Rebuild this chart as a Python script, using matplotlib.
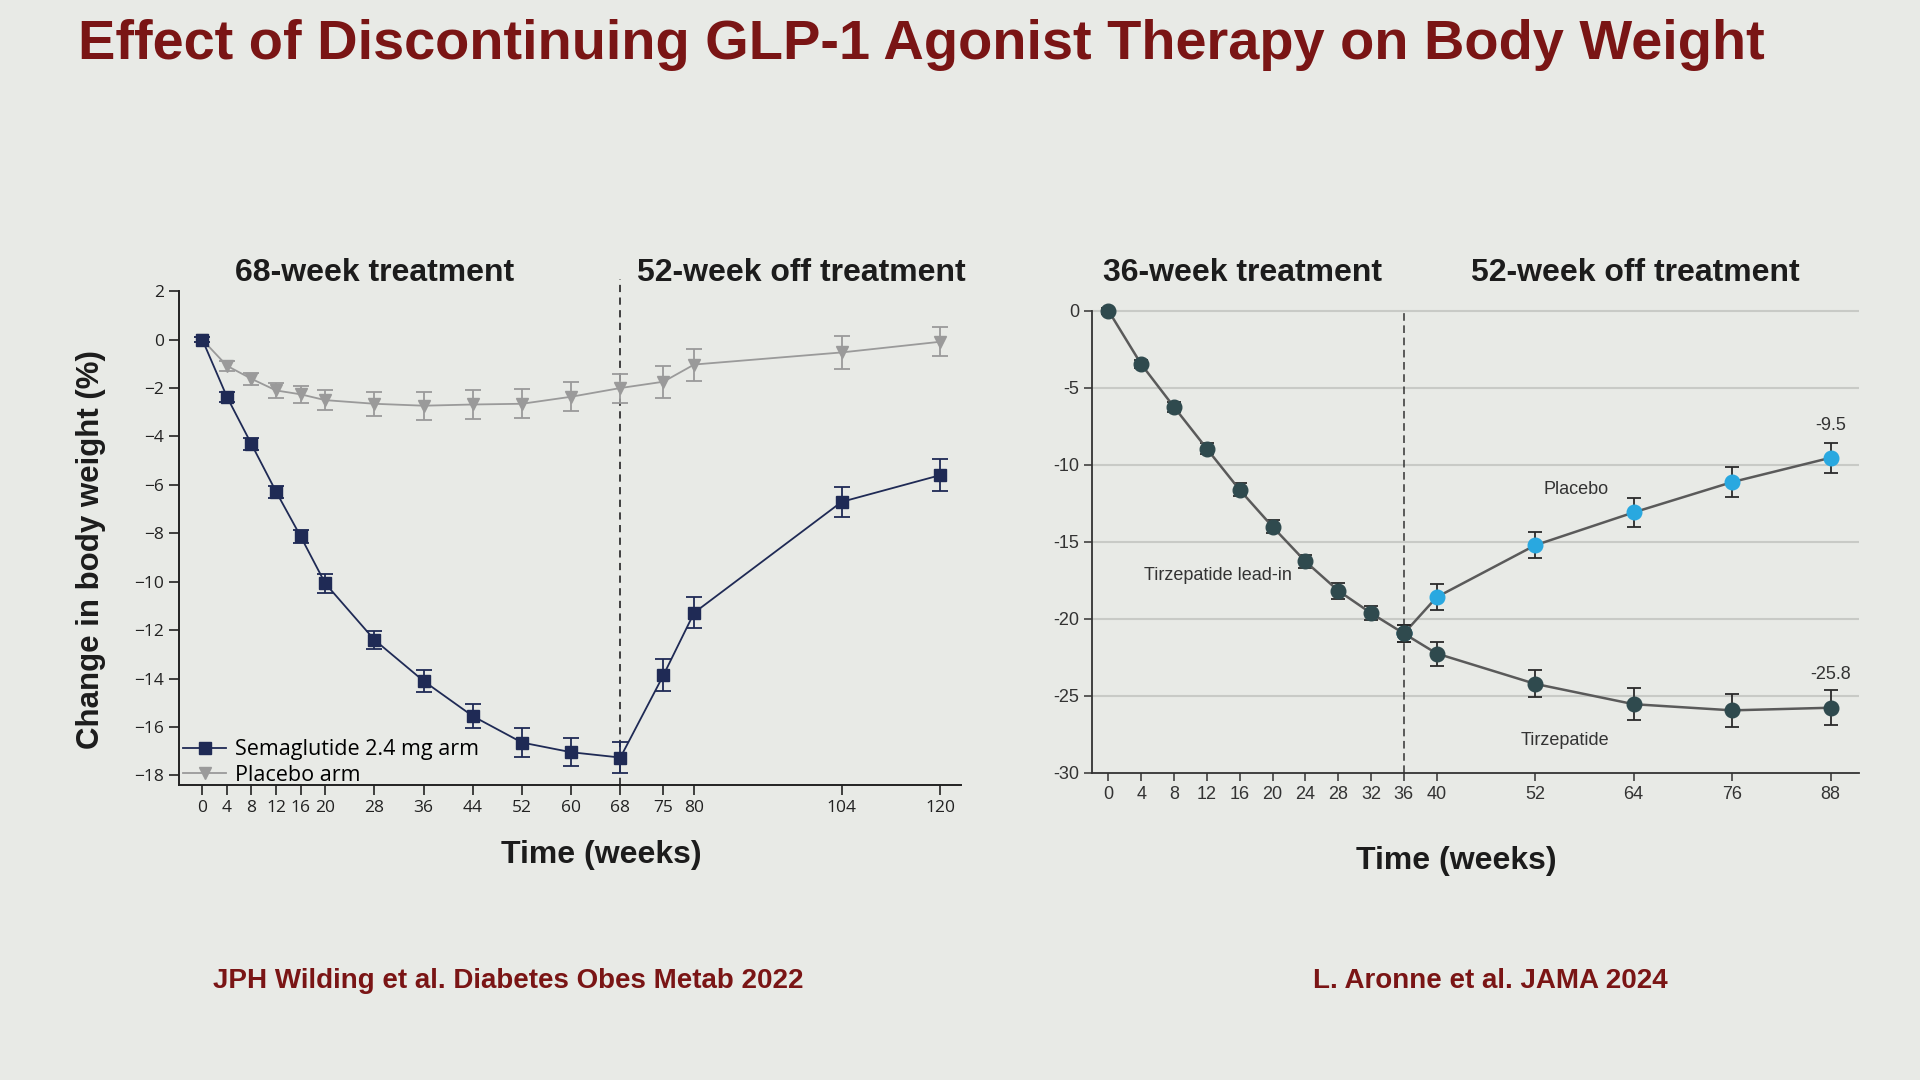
import matplotlib.pyplot as plt

# Wilding 2022 (STEP 1 extension)
sema_weeks = [0, 4, 8, 12, 16, 20, 28, 36, 44, 52, 60, 68, 75, 80, 104, 120]
sema_change = [0, -2.36, -4.32, -6.28, -8.13, -10.07, -12.4, -14.1, -15.55, -16.64, -17.04, -17.26, -13.86, -11.28, -6.7, -5.6]
sema_err = [0.1, 0.2, 0.25, 0.25, 0.25, 0.38, 0.38, 0.45, 0.5, 0.6, 0.58, 0.65, 0.65, 0.65, 0.63, 0.65]
plac_change = [0, -1.08, -1.62, -2.1, -2.26, -2.5, -2.65, -2.73, -2.68, -2.65, -2.36, -2.0, -1.74, -1.03, -0.53, -0.09]
plac_err = [0.1, 0.2, 0.25, 0.3, 0.35, 0.4, 0.5, 0.58, 0.6, 0.6, 0.6, 0.6, 0.66, 0.66, 0.68, 0.6]
left_xticks = [0, 4, 8, 12, 16, 20, 28, 36, 44, 52, 60, 68, 75, 80, 104, 120]

# Aronne 2024 (SURMOUNT-4)
leadin_weeks = [0, 4, 8, 12, 16, 20, 24, 28, 32, 36]
leadin_change = [0, -3.48, -6.26, -8.97, -11.64, -14.03, -16.28, -18.18, -19.64, -20.96]
leadin_err = [0.2, 0.25, 0.3, 0.35, 0.42, 0.43, 0.44, 0.52, 0.46, 0.56]
rand_weeks = [36, 40, 52, 64, 76, 88]
tirz_change = [-20.96, -22.26, -24.23, -25.55, -25.95, -25.78]
tirz_err = [0.56, 0.78, 0.87, 1.02, 1.07, 1.13]
pbo_change = [-20.96, -18.6, -15.23, -13.1, -11.13, -9.55]
pbo_err = [0.56, 0.86, 0.85, 0.93, 0.97, 0.96]
right_xticks = [0, 4, 8, 12, 16, 20, 24, 28, 32, 36, 40, 52, 64, 76, 88]
right_yticks = [0, -5, -10, -15, -20, -25, -30]

bg = '#E8EAE6'
red = '#7A1515'
dark = '#1C1C1C'
navy = '#1F2A55'
gray = '#9A9A9A'
teal = '#2F4A4E'
blue = '#29A8E0'
arial = ['Liberation Sans', 'DejaVu Sans']
narrow = ['Liberation Sans Narrow', 'Liberation Sans', 'DejaVu Sans']
opensans = ['Open Sans', 'DejaVu Sans']

fig = plt.figure(figsize=(19.2, 10.8), dpi=100, facecolor=bg)

fig.text(0.0406, 0.958, 'Effect of Discontinuing GLP-1 Agonist Therapy on Body Weight',
         fontsize=40.3, fontweight='bold', color=red, family=arial, va='center', ha='left')

# ---------- left panel ----------
ax1 = fig.add_axes([0.0932, 0.273, 0.4073, 0.4574])
ax1.set_facecolor(bg)
eb1 = ax1.errorbar(sema_weeks, sema_change, yerr=sema_err, color=navy, marker='s', ms=9,
                   lw=1.3, capsize=6, elinewidth=1.3, capthick=1.3, zorder=3)
eb2 = ax1.errorbar(sema_weeks, plac_change, yerr=plac_err, color=gray, marker='v', ms=9,
                   lw=1.3, capsize=6, elinewidth=1.3, capthick=1.3, zorder=2)
ax1.plot([68, 68], [-18.4, 2.5], color='#333333', lw=1.3, ls=(0, (4, 3)), clip_on=False, zorder=1)
ax1.set_xlim(-3.8, 123.4)
ax1.set_ylim(-18.4, 2)
ax1.set_xticks(left_xticks)
ax1.set_xticklabels([str(t) for t in left_xticks], family=opensans)
ax1.set_yticks(range(2, -19, -2))
ax1.set_yticklabels([str(t).replace('-', '\u2212') for t in range(2, -19, -2)], family=opensans)
ax1.tick_params(labelsize=12.5, colors='#222222', length=7, width=1.2)
for s in ['top', 'right']:
    ax1.spines[s].set_visible(False)
for s in ['left', 'bottom']:
    ax1.spines[s].set_color('#222222')
    ax1.spines[s].set_linewidth(1.4)
ax1.legend([eb1[0], eb2[0]], ['Semaglutide 2.4 mg arm', 'Placebo arm'], loc='lower left',
           frameon=False, handlelength=2.0, borderaxespad=0.0, borderpad=0.2,
           labelspacing=0.2, handletextpad=0.4, bbox_to_anchor=(0.0, -0.01),
           prop={'family': opensans, 'size': 15.5})
ax1.set_ylabel('Change in body weight (%)', fontsize=22.5, fontweight='bold', color=dark,
               family=arial)
ax1.yaxis.set_label_coords(-0.093, 0.476)
ax1.text(28, 2.15, '68-week treatment', fontsize=23, fontweight='bold', color=dark,
         family=arial, ha='center', va='bottom')
ax1.text(97.5, 2.15, '52-week off treatment', fontsize=23, fontweight='bold', color=dark,
         family=arial, ha='center', va='bottom')
fig.text(0.3131, 0.2083, 'Time (weeks)', fontsize=23, fontweight='bold', color=dark,
         family=arial, ha='center', va='center')

# ---------- right panel ----------
ax2 = fig.add_axes([0.569, 0.2845, 0.399, 0.435])
ax2.set_facecolor(bg)
for y in right_yticks[:-1]:
    ax2.axhline(y, color='#C8CAC6', lw=1.5, zorder=0)
ax2.plot([36, 36], [-30, 0], color='#333333', lw=1.1, ls=(0, (5, 3)), zorder=1)
ax2.errorbar(rand_weeks, pbo_change, yerr=pbo_err, color='#5A5A5A', lw=1.8, marker='o',
             mfc=blue, mec=blue, ms=10.5, capsize=5, elinewidth=1.3, capthick=1.3,
             ecolor='#2A2A2A', zorder=2)
ax2.errorbar(rand_weeks, tirz_change, yerr=tirz_err, color='#5A5A5A', lw=1.8, marker='o',
             mfc=teal, mec=teal, ms=10.5, capsize=5, elinewidth=1.3, capthick=1.3,
             ecolor='#2A2A2A', zorder=3)
ax2.errorbar(leadin_weeks, leadin_change, yerr=leadin_err, color='#5A5A5A', lw=1.8, marker='o',
             mfc=teal, mec=teal, ms=10.5, capsize=5, elinewidth=1.3, capthick=1.3,
             ecolor='#2A2A2A', zorder=3)
ax2.set_xlim(-1.94, 91.4)
ax2.set_ylim(-30, 0.5)
ax2.set_xticks(right_xticks)
ax2.set_xticklabels([str(t) for t in right_xticks], family=narrow)
ax2.set_yticks(right_yticks)
ax2.set_yticklabels([str(t) for t in right_yticks], family=narrow)
ax2.tick_params(labelsize=13, colors='#333333', length=6, width=1.1)
for s in ['top', 'right']:
    ax2.spines[s].set_visible(False)
ax2.spines['left'].set_bounds(-30, 0)
for s in ['left', 'bottom']:
    ax2.spines[s].set_color('#333333')
    ax2.spines[s].set_linewidth(1.3)
ax2.text(57, -11.6, 'Placebo', fontsize=13, color='#333333', family=narrow, ha='center', va='center')
ax2.text(13.3, -17.2, 'Tirzepatide lead-in', fontsize=13, color='#333333', family=narrow,
         ha='center', va='center')
ax2.text(55.6, -27.9, 'Tirzepatide', fontsize=13, color='#333333', family=narrow,
         ha='center', va='center')
ax2.text(88, -7.45, '-9.5', fontsize=13, color='#333333', family=narrow, ha='center', va='center')
ax2.text(88, -23.6, '-25.8', fontsize=13, color='#333333', family=narrow, ha='center', va='center')
ax2.text(16.3, 1.45, '36-week treatment', fontsize=23, fontweight='bold', color=dark,
         family=arial, ha='center', va='bottom')
ax2.text(64.2, 1.45, '52-week off treatment', fontsize=23, fontweight='bold', color=dark,
         family=arial, ha='center', va='bottom')
fig.text(0.7583, 0.2028, 'Time (weeks)', fontsize=23, fontweight='bold', color=dark,
         family=arial, ha='center', va='center')

# citations
fig.text(0.2646, 0.0917, 'JPH Wilding et al. Diabetes Obes Metab 2022', fontsize=20,
         fontweight='bold', color=red, family=arial, ha='center', va='center')
fig.text(0.776, 0.0917, 'L. Aronne et al. JAMA 2024', fontsize=20,
         fontweight='bold', color=red, family=arial, ha='center', va='center')

plt.savefig('out.png', dpi=100, facecolor=bg)
